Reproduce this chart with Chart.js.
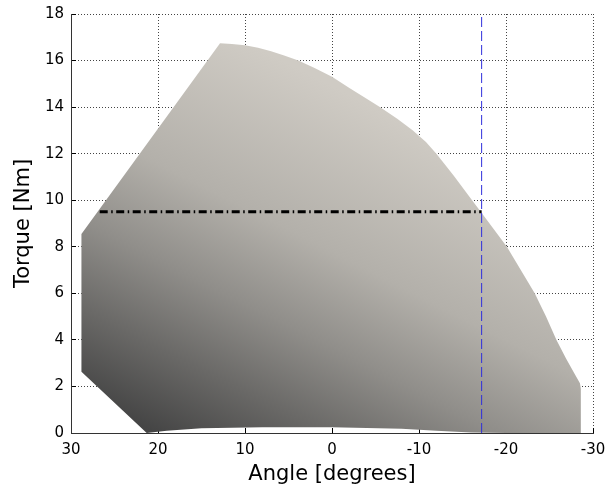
<!DOCTYPE html>
<html>
<head>
<meta charset="utf-8">
<style>
  html, body { margin: 0; padding: 0; background: #ffffff; }
  canvas { display: block; }
</style>
<script src="https://cdn.jsdelivr.net/npm/chart.js@4.4.1/dist/chart.umd.min.js"></script>
</head>
<body>
<canvas id="chart" width="605" height="488"></canvas>
<script>
// Operating region outline, traced clockwise from the upper-left corner
const regionAngle = [
  28.8, 12.87, 11.5, 10.0, 8.5, 7.0, 5.5, 3.87, 2.0, 0.0, -2.0, -3.8, -5.5, -7.5, -9.3,
  -10.8, -12.0, -14.0, -16.1, -17.1, -18.6, -20.1, -21.7, -23.3, -24.6, -25.8, -26.9,
  -27.8, -28.5, -28.6, -28.6,
  -20.0, -16.0, -12.0, -8.0, 0.0, 8.0, 15.0, 19.0, 21.3, 28.8
];
const regionTorque = [
  8.55, 16.74, 16.71, 16.66, 16.55, 16.40, 16.22, 16.0, 15.68, 15.3, 14.82, 14.4, 14.0, 13.5, 13.0,
  12.5, 12.0, 11.05, 10.0, 9.5, 8.75, 8.0, 7.0, 6.0, 5.0, 4.0, 3.2,
  2.6, 2.14, 1.9, 0.0,
  0.0, 0.02, 0.1, 0.18, 0.25, 0.25, 0.2, 0.1, 0.0, 2.63
];

// Rated torque level and the angle range it spans
const ratedTorque = 9.5;
const ratedAngles = [26.7, -17.2];

// Angle limit marker
const limitAngle = -17.2;
const limitTorque = [0, 18];

// Axis ranges and tick spacing
const angleRange = [-30, 30];
const angleStep = 10;
const torqueRange = [0, 18];
const torqueStep = 2;

const regionPoints = regionAngle.map((a, i) => ({ x: a, y: regionTorque[i] }));
const ratedPoints = ratedAngles.map(a => ({ x: a, y: ratedTorque }));
const limitPoints = limitTorque.map(t => ({ x: limitAngle, y: t }));

// Shaded fill: dark towards the lower-left, warm light grey towards the top
function regionFill(context) {
  const chart = context.chart;
  const area = chart.chartArea;
  if (!area) return '#999999';
  const g = chart.ctx.createLinearGradient(area.left + 32, area.bottom - 27, area.left + 208, area.bottom - 374);
  g.addColorStop(0.00, '#454545');
  g.addColorStop(0.20, '#6a6967');
  g.addColorStop(0.40, '#908e8a');
  g.addColorStop(0.62, '#b3b0aa');
  g.addColorStop(1.00, '#cfcbc4');
  return g;
}

const tickFont = { family: 'DejaVu Sans', size: 15 };
const titleFont = { family: 'DejaVu Sans', size: 21 };

new Chart(document.getElementById('chart'), {
  type: 'scatter',
  data: {
    datasets: [
      {
        data: regionPoints,
        showLine: true,
        fill: 'shape',
        backgroundColor: regionFill,
        borderColor: 'rgba(0,0,0,0)',
        borderWidth: 1,
        pointRadius: 0,
        tension: 0,
        order: 3
      },
      {
        data: ratedPoints,
        showLine: true,
        fill: false,
        borderColor: '#000000',
        borderWidth: 3,
        borderDash: [8, 3.5, 1.5, 3.5],
        borderCapStyle: 'butt',
        pointRadius: 0,
        order: 2
      },
      {
        data: limitPoints,
        showLine: true,
        fill: false,
        borderColor: '#2f2fdc',
        borderWidth: 1,
        borderDash: [10, 4],
        pointRadius: 0,
        order: 1
      }
    ]
  },
  options: {
    responsive: false,
    animation: false,
    devicePixelRatio: 1,
    layout: { padding: { top: 14, right: 12, bottom: 0, left: 0 } },
    plugins: {
      legend: { display: false },
      tooltip: { enabled: false }
    },
    scales: {
      x: {
        type: 'linear',
        reverse: true,
        min: angleRange[0],
        max: angleRange[1],
        ticks: {
          stepSize: angleStep,
          color: '#000000',
          font: tickFont,
          padding: 13,
          maxRotation: 0,
          autoSkip: false
        },
        grid: {
          color: '#444444',
          lineWidth: 1,
          tickLength: -5,
          tickColor: '#000000',
          tickWidth: 1
        },
        border: { display: true, color: '#333333', width: 1, dash: [1, 2] },
        title: {
          display: true,
          text: 'Angle [degrees]',
          color: '#000000',
          font: titleFont,
          padding: { top: 0, bottom: 1 }
        },
        afterFit(scale) {
          scale.height = 55;
          scale.paddingLeft = 0;
          scale.paddingRight = 0;
        }
      },
      y: {
        type: 'linear',
        min: torqueRange[0],
        max: torqueRange[1],
        ticks: {
          stepSize: torqueStep,
          color: '#000000',
          font: tickFont,
          padding: 12,
          autoSkip: false
        },
        grid: {
          color: '#444444',
          lineWidth: 1,
          tickLength: -5,
          tickColor: '#000000',
          tickWidth: 1
        },
        border: { display: true, color: '#333333', width: 1, dash: [1, 2] },
        title: {
          display: true,
          text: 'Torque [Nm]',
          color: '#000000',
          font: titleFont,
          padding: { top: 11, bottom: 0 }
        },
        afterFit(scale) {
          scale.width = 71;
          scale.paddingTop = 0;
          scale.paddingBottom = 0;
        }
      }
    }
  }
});
</script>
</body>
</html>
